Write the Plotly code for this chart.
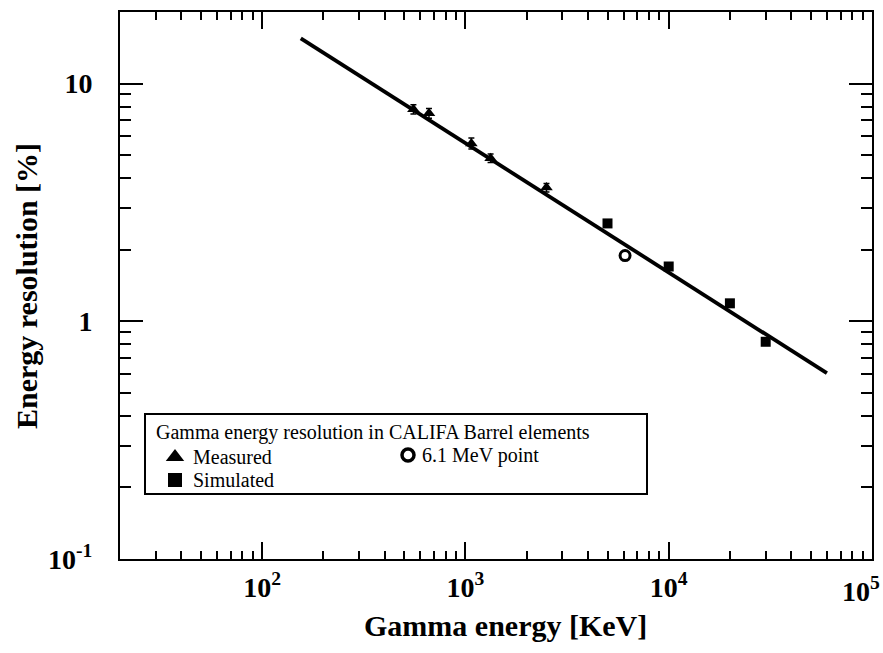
import plotly.graph_objects as go

# Measured resolution (with error bars)
measured_energy = [555, 662, 1070, 1330, 2505]          # keV
measured_res = [7.8, 7.5, 5.6, 4.85, 3.65]             # %
measured_err = [0.35, 0.35, 0.3, 0.2, 0.15]

# Simulated resolution
simulated_energy = [5000, 10000, 20000, 30000]
simulated_res = [2.58, 1.70, 1.19, 0.82]

# 6.1 MeV point
point_energy = [6100]
point_res = [1.89]

# Power-law fit line end points
fit_energy = [155, 60000]
fit_res = [15.5, 0.605]

x_tickvals = [100, 1000, 10000, 100000]
x_ticktext = ["<b>10<sup>2</sup></b>", "<b>10<sup>3</sup></b>",
              "<b>10<sup>4</sup></b>", "<b>10<sup>5</sup></b>"]
y_tickvals = [0.1, 1, 10]
y_ticktext = ["<b>10<sup>-1</sup></b>", "<b>1</b>", "<b>10</b>"]

legend_title = "Gamma energy resolution in CALIFA Barrel elements"
legend_labels = ["Measured", "Simulated", "6.1 MeV point"]

W, H = 883, 653
L, R, T, B = 120, 11, 12, 94
PW, PH = W - L - R, H - T - B
SERIF = "Liberation Serif"


def px(x):
    return (x - L) / PW


def py(y):
    return (H - B - y) / PH


fig = go.Figure()

fig.add_trace(go.Scatter(
    x=fit_energy, y=fit_res, mode="lines",
    line=dict(color="black", width=3.8), showlegend=False))

fig.add_trace(go.Scatter(
    x=measured_energy, y=measured_res, mode="markers",
    marker=dict(symbol="triangle-up", size=11, color="black"),
    error_y=dict(type="data", array=measured_err, color="black",
                 thickness=1.5, width=3),
    showlegend=False))

fig.add_trace(go.Scatter(
    x=simulated_energy, y=simulated_res, mode="markers",
    marker=dict(symbol="square", size=10, color="black"),
    showlegend=False))

fig.add_trace(go.Scatter(
    x=point_energy, y=point_res, mode="markers",
    marker=dict(symbol="circle-open", size=10, color="black",
                line=dict(width=3, color="black")),
    showlegend=False))

# Legend symbols, drawn on an overlay axis in plot-fraction units
fig.add_trace(go.Scatter(
    x=[px(175)], y=[py(457)], mode="markers", xaxis="x2", yaxis="y2",
    marker=dict(symbol="triangle-up", size=16, color="black"),
    showlegend=False, hoverinfo="skip"))
fig.add_trace(go.Scatter(
    x=[px(175)], y=[py(480)], mode="markers", xaxis="x2", yaxis="y2",
    marker=dict(symbol="square", size=14, color="black"),
    showlegend=False, hoverinfo="skip"))
fig.add_trace(go.Scatter(
    x=[px(408)], y=[py(455)], mode="markers", xaxis="x2", yaxis="y2",
    marker=dict(symbol="circle-open", size=12, color="black",
                line=dict(width=3.5, color="black")),
    showlegend=False, hoverinfo="skip"))

axis_common = dict(
    type="log",
    showline=True, linecolor="black", linewidth=2, mirror="ticks",
    ticks="inside", tickcolor="black", tickwidth=2,
    showgrid=False, zeroline=False,
    tickmode="array", automargin=False,
    tickfont=dict(family=SERIF, size=28, color="black"),
    minor=dict(ticks="inside", tickcolor="black", tickwidth=1.5,
               dtick="D1", showgrid=False),
)

# The last x label sits at the right edge of the page, so it is drawn
# separately and pulled inside the page.
x_axis_labels = x_ticktext[:-1] + [""]

fig.update_layout(
    width=W, height=H,
    margin=dict(l=L, r=R, t=T, b=B, autoexpand=False),
    paper_bgcolor="white", plot_bgcolor="white",
    xaxis=dict(axis_common, range=[1.30103, 5],
               tickvals=x_tickvals, ticktext=x_axis_labels, ticklen=17,
               minor=dict(axis_common["minor"], ticklen=8),
               ticklabelstandoff=2),
    yaxis=dict(axis_common, range=[-1, 1.30103],
               tickvals=y_tickvals, ticktext=y_ticktext, ticklen=23,
               minor=dict(axis_common["minor"], ticklen=11),
               ticklabelstandoff=20),
    xaxis2=dict(overlaying="x", range=[0, 1], visible=False),
    yaxis2=dict(overlaying="y", range=[0, 1], visible=False),
    showlegend=False,
)

fig.add_annotation(xref="paper", yref="paper", x=1, y=py(589),
                   text=x_ticktext[-1], showarrow=False,
                   xanchor="right", yanchor="middle", xshift=10,
                   font=dict(family=SERIF, size=28, color="black"))

# Legend frame
fig.add_shape(type="rect", xref="paper", yref="paper",
              x0=px(145), x1=px(647), y0=py(494), y1=py(414),
              line=dict(color="black", width=2), fillcolor="white",
              layer="below")

legend_font = dict(family=SERIF, size=20, color="black")
fig.add_annotation(xref="paper", yref="paper", x=px(154), y=py(432),
                   text=legend_title, showarrow=False,
                   xanchor="left", yanchor="middle", font=legend_font)
fig.add_annotation(xref="paper", yref="paper", x=px(191), y=py(457),
                   text=legend_labels[0], showarrow=False,
                   xanchor="left", yanchor="middle", font=legend_font)
fig.add_annotation(xref="paper", yref="paper", x=px(191), y=py(480),
                   text=legend_labels[1], showarrow=False,
                   xanchor="left", yanchor="middle", font=legend_font)
fig.add_annotation(xref="paper", yref="paper", x=px(420), y=py(455),
                   text=legend_labels[2], showarrow=False,
                   xanchor="left", yanchor="middle", font=legend_font)

# Axis titles
fig.add_annotation(xref="paper", yref="paper", x=px(505), y=py(625),
                   text="<b>Gamma energy [KeV]</b>", showarrow=False,
                   xanchor="center", yanchor="middle",
                   font=dict(family=SERIF, size=30, color="black"))
fig.add_annotation(xref="paper", yref="paper", x=px(26), y=py(286),
                   text="<b>Energy resolution [%]</b>", showarrow=False,
                   textangle=-90, xanchor="center", yanchor="middle",
                   font=dict(family=SERIF, size=30, color="black"))

fig.write_html("out.html")
